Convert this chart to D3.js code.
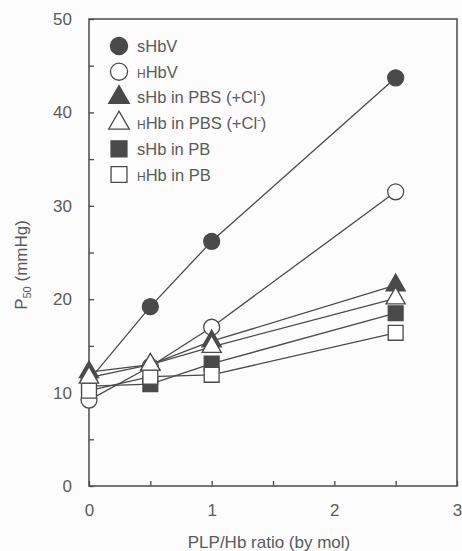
<!DOCTYPE html>
<html>
<head>
<meta charset="utf-8">
<script src="https://cdn.jsdelivr.net/npm/d3@7"></script>
<style>
  body { margin: 0; background: #fcfcfc; }
  text { font-family: "Liberation Sans", Arial, sans-serif; fill: #5a5a5a; }
</style>
</head>
<body>
<script>
// PLP/Hb ratio values
var ratios = [0, 0.5, 1, 2.5]

// P50 values (mmHg)
var sHbV = [11.3, 19.2, 26.2, 43.7]
var hHbV = [9.2, 12.8, 17.0, 31.5]
var sHbPBS = [12.2, 13.0, 15.5, 21.5]
var hHbPBS = [11.6, 13.0, 14.9, 20.1]
var sHbPB = [10.7, 10.9, 13.1, 18.5]
var hHbPB = [10.2, 11.7, 11.9, 16.4]

var xTicks = [0, 1, 2, 3]
var yTicks = [0, 10, 20, 30, 40, 50]

var width = 462, height = 551
var margin = {left: 89, right: 5, top: 19, bottom: 65}

var x = d3.scaleLinear().domain([0, 3]).range([margin.left, width - margin.right])
var y = d3.scaleLinear().domain([0, 50]).range([height - margin.bottom, margin.top])

var dark = "#4a4a4a"

var series = [
  {name: ["s", "HbV"], values: sHbV, shape: d3.symbolCircle, size: 200, fill: dark},
  {name: ["H", "HbV"], values: hHbV, shape: d3.symbolCircle, size: 200, fill: "#fff"},
  {name: ["s", "Hb in PBS (+Cl", "-", ")"], values: sHbPBS, shape: d3.symbolTriangle, size: 160, fill: dark},
  {name: ["H", "Hb in PBS (+Cl", "-", ")"], values: hHbPBS, shape: d3.symbolTriangle, size: 160, fill: "#fff"},
  {name: ["s", "Hb in PB"], values: sHbPB, shape: d3.symbolSquare, size: 220, fill: dark},
  {name: ["H", "Hb in PB"], values: hHbPB, shape: d3.symbolSquare, size: 220, fill: "#fff"}
]

var svg = d3.select("body").append("svg")
    .attr("width", width)
    .attr("height", height)

// frame
svg.append("rect")
    .attr("x", x(0)).attr("y", y(50))
    .attr("width", x(3) - x(0)).attr("height", y(0) - y(50))
    .attr("fill", "none")
    .attr("stroke", dark)
    .attr("stroke-width", 1.5)

var xAxis = svg.append("g")
    .attr("transform", "translate(0," + y(0) + ")")
    .call(d3.axisBottom(x).tickValues(d3.range(0, 3.01, 0.5)).tickSize(-5).tickFormat(function(d) {
      return xTicks.indexOf(d) >= 0 ? d : ""
    }).tickPadding(18))
var yAxis = svg.append("g")
    .attr("transform", "translate(" + x(0) + ",0)")
    .call(d3.axisLeft(y).tickValues(d3.range(0, 51, 5)).tickSize(-5).tickFormat(function(d) {
      return yTicks.indexOf(d) >= 0 ? d : ""
    }).tickPadding(17))

svg.selectAll(".domain").remove()
svg.selectAll(".tick line").attr("stroke", dark).attr("stroke-width", 1.3)
svg.selectAll(".tick text").style("font-size", "17px").attr("fill", "#5a5a5a")
  .style("font-family", "Liberation Sans, Arial, sans-serif")

svg.append("text")
    .attr("x", (x(0) + x(3)) / 2 - 4)
    .attr("y", 548)
    .attr("text-anchor", "middle")
    .style("font-size", "17px")
    .text("PLP/Hb ratio (by mol)")

var yt = svg.append("text")
    .attr("transform", "translate(27,265) rotate(-90)")
    .attr("text-anchor", "middle")
    .style("font-size", "17px")
yt.append("tspan").text("P")
yt.append("tspan").attr("font-size", "11px").attr("dy", 4).text("50")
yt.append("tspan").attr("dy", -4).text(" (mmHg)")

var line = d3.line()
    .x(function(d, i) { return x(ratios[i]) })
    .y(function(d) { return y(d) })

series.forEach(function(s) {
  svg.append("path")
      .attr("d", line(s.values))
      .attr("fill", "none")
      .attr("stroke", dark)
      .attr("stroke-width", 1.3)
})

var order = [0, 1, 4, 5, 2, 3]
order.forEach(function(k) {
  var s = series[k]
  svg.append("g").selectAll("path")
    .data(s.values)
    .join("path")
      .attr("transform", function(d, i) { return "translate(" + x(ratios[i]) + "," + y(d) + ")" })
      .attr("d", d3.symbol().type(s.shape).size(s.size))
      .attr("fill", s.fill)
      .attr("stroke", dark)
      .attr("stroke-width", 1.3)
})

// legend
var legend = svg.append("g")
series.forEach(function(s, i) {
  var ly = 46 + i * 25.7
  legend.append("path")
      .attr("transform", "translate(119," + ly + ")")
      .attr("d", d3.symbol().type(s.shape).size(s.size * 1.15))
      .attr("fill", s.fill)
      .attr("stroke", dark)
      .attr("stroke-width", 1.3)
  var t = legend.append("text")
      .attr("x", 137)
      .attr("y", ly + 6)
      .style("font-size", "16.5px")
  if (s.name[0] == "H") {
    t.append("tspan").attr("font-size", "12px").text("H")
  } else {
    t.append("tspan").text("s")
  }
  t.append("tspan").text(s.name[1])
  if (s.name.length > 2) {
    t.append("tspan").attr("font-size", "11px").attr("dy", -6).text(s.name[2])
    t.append("tspan").attr("dy", 6).text(s.name[3])
  }
})
</script>
</body>
</html>
